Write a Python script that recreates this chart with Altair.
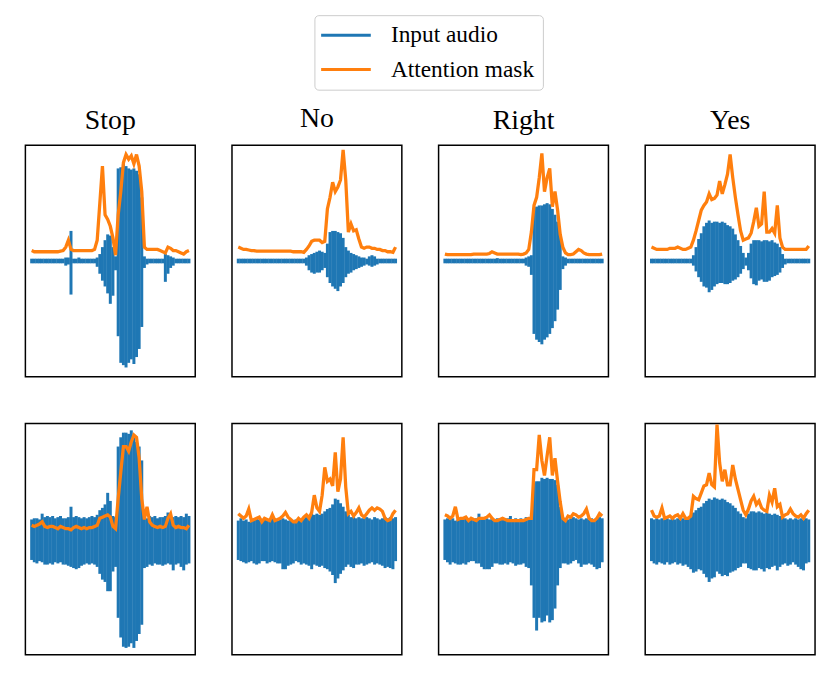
import altair as alt
import pandas as pd

WORDS = ["Stop", "No", "Right", "Yes"]
SERIES = ["Input audio", "Attention mask"]
COLORS = ["#1f77b4", "#ff7f0e"]

# ---------- top row (clean input) ----------
STOP_A_HI = [0.02,0.02,0.02,0.02,0.02,0.02,0.02,0.02,0.02,0.02,
             0.02,0.02,0.02,0.03,0.03,0.26,0.02,0.02,0.03,0.02,
             0.02,0.02,0.02,0.02,0.02,0.03,0.06,0.12,0.18,0.23,
             0.22,0.12,0.04,0.80,0.81,0.84,0.82,0.80,0.79,0.80,
             0.78,0.75,0.55,0.04,0.02,0.02,0.02,0.02,0.02,0.02,
             0.02,0.06,0.05,0.04,0.03,0.02,0.02,0.02,0.02,0.02,
             0.02]
STOP_A_LO = [-0.02,-0.02,-0.02,-0.02,-0.02,-0.02,-0.02,-0.02,-0.02,-0.02,
             -0.02,-0.02,-0.02,-0.04,-0.03,-0.29,-0.02,-0.02,-0.02,-0.02,
             -0.02,-0.02,-0.02,-0.02,-0.02,-0.05,-0.11,-0.17,-0.22,-0.28,
             -0.37,-0.30,-0.08,-0.65,-0.88,-0.90,-0.92,-0.88,-0.85,-0.89,
             -0.83,-0.76,-0.57,-0.06,-0.03,-0.02,-0.02,-0.02,-0.02,-0.02,
             -0.02,-0.18,-0.11,-0.06,-0.04,-0.02,-0.02,-0.02,-0.02,-0.02,
             -0.02]
STOP_A_MASK = [0.09,0.08,0.08,0.08,0.08,0.08,0.08,0.08,0.08,0.08,
               0.08,0.085,0.09,0.12,0.18,0.10,0.09,0.09,0.09,0.09,
               0.09,0.09,0.09,0.09,0.10,0.18,0.50,0.82,0.40,0.36,
               0.30,0.20,0.05,0.40,0.60,0.85,0.92,0.88,0.91,0.84,
               0.92,0.82,0.60,0.12,0.10,0.10,0.10,0.10,0.10,0.09,
               0.08,0.07,0.12,0.11,0.09,0.09,0.08,0.07,0.06,0.08,
               0.09]

NO_A_HI = [0.02,0.02,0.02,0.02,0.02,0.02,0.02,0.02,0.02,0.02,
           0.02,0.02,0.02,0.02,0.02,0.02,0.02,0.02,0.02,0.02,
           0.02,0.02,0.02,0.02,0.02,0.02,0.03,0.05,0.06,0.07,
           0.08,0.09,0.08,0.07,0.15,0.25,0.26,0.26,0.25,0.24,
           0.20,0.12,0.09,0.07,0.06,0.05,0.04,0.03,0.03,0.02,
           0.04,0.05,0.04,0.02,0.02,0.02,0.02,0.02,0.02,0.02,
           0.02]
NO_A_LO = [-0.02,-0.02,-0.02,-0.02,-0.02,-0.02,-0.02,-0.02,-0.02,-0.02,
           -0.02,-0.02,-0.02,-0.02,-0.02,-0.02,-0.02,-0.02,-0.02,-0.02,
           -0.02,-0.02,-0.02,-0.02,-0.02,-0.02,-0.04,-0.08,-0.10,-0.11,
           -0.10,-0.10,-0.08,-0.06,-0.14,-0.19,-0.22,-0.24,-0.26,-0.22,
           -0.19,-0.14,-0.11,-0.10,-0.08,-0.07,-0.06,-0.05,-0.04,-0.03,
           -0.04,-0.05,-0.04,-0.03,-0.02,-0.02,-0.02,-0.02,-0.02,-0.02,
           -0.02]
NO_A_MASK = [0.12,0.11,0.10,0.10,0.095,0.09,0.09,0.085,0.085,0.085,
             0.085,0.085,0.085,0.085,0.085,0.085,0.085,0.085,0.085,0.085,
             0.085,0.08,0.08,0.08,0.08,0.075,0.10,0.13,0.17,0.18,
             0.18,0.18,0.16,0.17,0.45,0.55,0.68,0.60,0.64,0.70,
             0.96,0.70,0.25,0.32,0.26,0.27,0.19,0.12,0.11,0.12,
             0.12,0.11,0.11,0.10,0.10,0.09,0.09,0.08,0.08,0.075,
             0.12]

RIGHT_A_HI = [0.02,0.02,0.02,0.02,0.02,0.02,0.02,0.02,0.02,0.02,
              0.02,0.02,0.02,0.02,0.02,0.02,0.02,0.02,0.02,0.02,
              0.025,0.02,0.02,0.02,0.02,0.02,0.02,0.02,0.02,0.02,
              0.02,0.03,0.04,0.05,0.46,0.47,0.48,0.48,0.49,0.50,
              0.49,0.45,0.40,0.34,0.23,0.04,0.03,0.02,0.02,0.02,
              0.02,0.02,0.02,0.02,0.02,0.02,0.02,0.02,0.02,0.02,
              0.02]
RIGHT_A_LO = [-0.02,-0.02,-0.02,-0.02,-0.02,-0.02,-0.02,-0.02,-0.02,-0.02,
              -0.02,-0.02,-0.02,-0.02,-0.02,-0.02,-0.02,-0.02,-0.02,-0.02,
              -0.02,-0.02,-0.02,-0.02,-0.02,-0.02,-0.02,-0.02,-0.02,-0.02,
              -0.02,-0.04,-0.05,-0.12,-0.63,-0.68,-0.70,-0.72,-0.68,-0.66,
              -0.63,-0.58,-0.52,-0.42,-0.25,-0.07,-0.04,-0.02,-0.02,-0.02,
              -0.02,-0.02,-0.02,-0.02,-0.02,-0.02,-0.02,-0.02,-0.02,-0.02,
              -0.02]
RIGHT_A_MASK = [0.06,0.055,0.055,0.055,0.055,0.055,0.055,0.055,0.055,0.055,
                0.055,0.06,0.06,0.06,0.06,0.06,0.06,0.065,0.08,0.07,
                0.06,0.06,0.06,0.06,0.06,0.06,0.06,0.06,0.06,0.055,
                0.06,0.07,0.10,0.25,0.48,0.55,0.72,0.93,0.60,0.72,
                0.80,0.47,0.60,0.44,0.23,0.12,0.07,0.055,0.055,0.06,
                0.08,0.10,0.09,0.07,0.06,0.055,0.055,0.055,0.055,0.055,
                0.06]

YES_A_HI = [0.02,0.02,0.02,0.02,0.02,0.02,0.02,0.02,0.02,0.02,
            0.02,0.02,0.02,0.02,0.02,0.02,0.05,0.12,0.19,0.24,
            0.30,0.33,0.35,0.33,0.34,0.34,0.33,0.34,0.33,0.31,
            0.30,0.28,0.23,0.18,0.13,0.07,0.03,0.07,0.15,0.18,
            0.18,0.18,0.17,0.18,0.18,0.17,0.18,0.16,0.15,0.12,
            0.06,0.02,0.02,0.02,0.02,0.02,0.02,0.02,0.02,0.02,
            0.02]
YES_A_LO = [-0.02,-0.02,-0.02,-0.02,-0.02,-0.02,-0.02,-0.02,-0.02,-0.02,
            -0.02,-0.02,-0.02,-0.02,-0.02,-0.02,-0.04,-0.09,-0.14,-0.18,
            -0.22,-0.23,-0.27,-0.25,-0.22,-0.20,-0.19,-0.19,-0.20,-0.20,
            -0.19,-0.17,-0.16,-0.14,-0.11,-0.07,-0.04,-0.08,-0.15,-0.20,
            -0.21,-0.17,-0.16,-0.18,-0.18,-0.17,-0.14,-0.13,-0.12,-0.10,
            -0.06,-0.03,-0.02,-0.02,-0.02,-0.02,-0.02,-0.02,-0.02,-0.02,
            -0.02]
YES_A_MASK = [0.12,0.11,0.10,0.10,0.10,0.10,0.10,0.11,0.11,0.11,
              0.12,0.11,0.10,0.10,0.11,0.12,0.18,0.26,0.35,0.44,
              0.48,0.51,0.58,0.53,0.54,0.57,0.69,0.58,0.66,0.75,
              0.92,0.72,0.55,0.40,0.26,0.18,0.19,0.20,0.24,0.34,
              0.46,0.30,0.32,0.60,0.25,0.25,0.28,0.24,0.48,0.20,
              0.12,0.10,0.10,0.10,0.10,0.10,0.10,0.10,0.10,0.10,
              0.13]

# ---------- bottom row (noisy input) ----------
STOP_B_HI = [0.17,0.18,0.18,0.17,0.22,0.19,0.20,0.19,0.20,0.18,
             0.19,0.20,0.18,0.18,0.19,0.28,0.19,0.20,0.19,0.18,
             0.19,0.18,0.19,0.20,0.19,0.21,0.25,0.27,0.30,0.40,
             0.33,0.20,0.19,0.80,0.88,0.92,0.92,0.91,0.94,0.88,
             0.84,0.80,0.68,0.22,0.18,0.20,0.19,0.20,0.18,0.19,
             0.19,0.20,0.23,0.20,0.19,0.20,0.19,0.20,0.19,0.22,
             0.20]
STOP_B_LO = [-0.18,-0.20,-0.21,-0.19,-0.20,-0.22,-0.22,-0.21,-0.22,-0.20,
             -0.21,-0.20,-0.22,-0.22,-0.23,-0.24,-0.25,-0.26,-0.25,-0.23,
             -0.22,-0.21,-0.22,-0.21,-0.22,-0.24,-0.30,-0.35,-0.37,-0.45,
             -0.45,-0.28,-0.24,-0.68,-0.85,-0.93,-0.94,-0.93,-0.90,-0.94,
             -0.88,-0.82,-0.74,-0.25,-0.24,-0.22,-0.23,-0.21,-0.22,-0.22,
             -0.23,-0.22,-0.21,-0.22,-0.27,-0.22,-0.21,-0.24,-0.27,-0.22,
             -0.21]
STOP_B_MASK = [0.12,0.11,0.12,0.13,0.15,0.11,0.10,0.11,0.11,0.10,
               0.09,0.11,0.10,0.09,0.09,0.08,0.10,0.11,0.10,0.09,
               0.10,0.09,0.10,0.10,0.11,0.12,0.18,0.19,0.20,0.21,
               0.19,0.11,0.09,0.35,0.58,0.80,0.80,0.76,0.84,0.90,
               0.88,0.70,0.35,0.17,0.28,0.15,0.12,0.11,0.10,0.11,
               0.10,0.11,0.18,0.22,0.12,0.10,0.11,0.10,0.10,0.09,
               0.12]

NO_B_HI = [0.16,0.18,0.16,0.17,0.15,0.16,0.17,0.18,0.17,0.16,
           0.18,0.17,0.16,0.18,0.17,0.16,0.17,0.18,0.17,0.16,
           0.17,0.16,0.17,0.18,0.17,0.18,0.19,0.21,0.22,0.21,
           0.22,0.21,0.22,0.24,0.26,0.27,0.30,0.35,0.34,0.31,
           0.28,0.24,0.21,0.19,0.19,0.18,0.19,0.18,0.18,0.19,
           0.18,0.17,0.19,0.18,0.17,0.18,0.19,0.18,0.19,0.18,
           0.19]
NO_B_LO = [-0.18,-0.19,-0.20,-0.21,-0.20,-0.19,-0.21,-0.22,-0.21,-0.19,
           -0.19,-0.21,-0.20,-0.19,-0.20,-0.21,-0.21,-0.26,-0.26,-0.23,
           -0.22,-0.21,-0.19,-0.20,-0.22,-0.21,-0.22,-0.23,-0.26,-0.22,
           -0.23,-0.24,-0.23,-0.25,-0.26,-0.28,-0.31,-0.38,-0.34,-0.30,
           -0.27,-0.24,-0.22,-0.24,-0.25,-0.22,-0.22,-0.21,-0.23,-0.22,
           -0.21,-0.20,-0.22,-0.21,-0.22,-0.23,-0.25,-0.24,-0.25,-0.26,
           -0.19]
NO_B_MASK = [0.22,0.20,0.18,0.20,0.26,0.16,0.17,0.18,0.19,0.15,
             0.18,0.17,0.16,0.21,0.16,0.17,0.18,0.20,0.23,0.19,
             0.17,0.15,0.15,0.18,0.16,0.19,0.21,0.18,0.23,0.38,
             0.27,0.24,0.38,0.62,0.50,0.52,0.46,0.75,0.41,0.52,
             0.88,0.45,0.22,0.24,0.20,0.23,0.27,0.21,0.19,0.22,
             0.25,0.27,0.25,0.27,0.26,0.24,0.18,0.16,0.17,0.22,
             0.25]

RIGHT_B_HI = [0.17,0.18,0.17,0.18,0.16,0.17,0.18,0.17,0.18,0.17,
              0.18,0.17,0.18,0.22,0.18,0.17,0.18,0.17,0.18,0.17,
              0.18,0.17,0.18,0.17,0.18,0.20,0.17,0.18,0.17,0.18,
              0.17,0.19,0.18,0.22,0.49,0.50,0.50,0.53,0.52,0.53,
              0.52,0.52,0.51,0.47,0.28,0.19,0.18,0.17,0.18,0.19,
              0.18,0.17,0.18,0.17,0.18,0.17,0.18,0.17,0.18,0.19,
              0.18]
RIGHT_B_LO = [-0.18,-0.20,-0.22,-0.20,-0.21,-0.22,-0.22,-0.21,-0.22,-0.20,
              -0.19,-0.19,-0.21,-0.21,-0.24,-0.26,-0.26,-0.26,-0.24,-0.21,
              -0.21,-0.22,-0.22,-0.21,-0.22,-0.20,-0.21,-0.23,-0.22,-0.22,
              -0.21,-0.24,-0.25,-0.40,-0.68,-0.79,-0.68,-0.72,-0.71,-0.66,
              -0.72,-0.70,-0.60,-0.40,-0.25,-0.21,-0.21,-0.22,-0.21,-0.19,
              -0.18,-0.21,-0.24,-0.22,-0.22,-0.21,-0.22,-0.24,-0.26,-0.25,
              -0.20]
RIGHT_B_MASK = [0.21,0.20,0.18,0.20,0.28,0.17,0.18,0.18,0.19,0.16,
                0.18,0.17,0.16,0.18,0.18,0.18,0.19,0.21,0.18,0.16,
                0.16,0.17,0.18,0.17,0.16,0.16,0.16,0.16,0.16,0.16,
                0.16,0.17,0.18,0.18,0.60,0.60,0.90,0.68,0.55,0.72,
                0.88,0.55,0.70,0.50,0.32,0.18,0.16,0.20,0.19,0.22,
                0.21,0.19,0.20,0.22,0.26,0.18,0.16,0.16,0.18,0.22,
                0.20]

YES_B_HI = [0.18,0.17,0.18,0.17,0.18,0.17,0.18,0.17,0.18,0.17,
            0.18,0.17,0.18,0.17,0.18,0.19,0.23,0.25,0.27,0.28,
            0.31,0.33,0.35,0.34,0.36,0.35,0.34,0.35,0.34,0.32,
            0.31,0.29,0.27,0.24,0.22,0.19,0.18,0.22,0.24,0.24,
            0.23,0.24,0.23,0.22,0.23,0.22,0.21,0.22,0.21,0.20,
            0.19,0.18,0.17,0.18,0.17,0.18,0.17,0.18,0.17,0.18,
            0.17]
YES_B_LO = [-0.19,-0.21,-0.22,-0.20,-0.21,-0.22,-0.20,-0.22,-0.21,-0.20,
            -0.22,-0.21,-0.23,-0.22,-0.24,-0.26,-0.29,-0.28,-0.26,-0.27,
            -0.30,-0.33,-0.37,-0.34,-0.33,-0.28,-0.30,-0.32,-0.31,-0.32,
            -0.29,-0.28,-0.27,-0.25,-0.24,-0.21,-0.21,-0.25,-0.26,-0.27,
            -0.27,-0.25,-0.26,-0.28,-0.25,-0.26,-0.24,-0.23,-0.27,-0.24,
            -0.22,-0.21,-0.23,-0.22,-0.20,-0.22,-0.24,-0.26,-0.27,-0.21,
            -0.20]
YES_B_MASK = [0.25,0.20,0.19,0.20,0.27,0.18,0.19,0.20,0.18,0.20,
              0.21,0.18,0.22,0.18,0.18,0.20,0.37,0.35,0.34,0.40,
              0.46,0.47,0.57,0.47,0.45,0.99,0.66,0.50,0.60,0.47,
              0.47,0.64,0.52,0.43,0.34,0.25,0.21,0.26,0.33,0.37,
              0.30,0.33,0.27,0.25,0.24,0.38,0.32,0.44,0.28,0.30,
              0.19,0.21,0.22,0.26,0.22,0.20,0.19,0.21,0.18,0.22,
              0.25]

TOP = [(STOP_A_HI, STOP_A_LO, STOP_A_MASK), (NO_A_HI, NO_A_LO, NO_A_MASK),
       (RIGHT_A_HI, RIGHT_A_LO, RIGHT_A_MASK), (YES_A_HI, YES_A_LO, YES_A_MASK)]
BOTTOM = [(STOP_B_HI, STOP_B_LO, STOP_B_MASK), (NO_B_HI, NO_B_LO, NO_B_MASK),
          (RIGHT_B_HI, RIGHT_B_LO, RIGHT_B_MASK), (YES_B_HI, YES_B_LO, YES_B_MASK)]

SERIF = "Liberation Serif"

legend = alt.Legend(
    title=None, orient="none", legendX=291, legendY=-131,
    symbolType="M-2.7,0H7.3", symbolSize=100, symbolStrokeWidth=3,
    labelFont=SERIF, labelFontSize=23.5, labelColor="black", labelOffset=45,
    labelLimit=400, padding=8.5, rowPadding=9.5,
    strokeColor="#cccccc", fillColor="white", cornerRadius=4,
)
color = alt.Color("series:N", scale=alt.Scale(domain=SERIES, range=COLORS), legend=legend)


def panel(hi, lo, mask, title=None):
    audio = pd.DataFrame({"t": list(range(len(hi))), "hi": hi, "lo": lo,
                          "series": SERIES[0]})
    att = pd.DataFrame({"t": list(range(len(mask))), "v": mask, "series": SERIES[1]})
    n = len(hi) - 1
    xs = alt.Scale(domain=[-0.04 * n, 1.04 * n], nice=False, zero=False)
    ys = alt.Scale(domain=[-1, 1], nice=False, zero=False)
    rules = alt.Chart(audio).mark_rule(strokeWidth=3).encode(
        x=alt.X("t:Q", scale=xs, axis=None),
        y=alt.Y("hi:Q", scale=ys, axis=None),
        y2="lo:Q",
        color=color,
    )
    line = alt.Chart(att).mark_line(strokeWidth=3.3).encode(
        x=alt.X("t:Q", scale=xs, axis=None),
        y=alt.Y("v:Q", scale=ys, axis=None),
        color=color,
    )
    ch = alt.layer(rules, line).properties(width=171, height=233)
    if title:
        ch = ch.properties(title=alt.TitleParams(
            title, font=SERIF, fontSize=28, fontWeight="normal", color="black",
            anchor="middle", offset=0, dy=12, baseline="alphabetic"))
    return ch


row1 = alt.hconcat(*[panel(h, l, m, w) for (h, l, m), w in zip(TOP, WORDS)], spacing=33)
row2 = alt.hconcat(*[panel(h, l, m) for (h, l, m) in BOTTOM], spacing=33)

chart = alt.vconcat(row1, row2, spacing=39).resolve_scale(color="shared").properties(
    padding={"left": 15.5, "top": 4, "right": 5, "bottom": 5}
).configure_view(stroke="black", strokeWidth=1.5)

chart.save("out.html", embed_options={"renderer": "svg", "actions": False})
